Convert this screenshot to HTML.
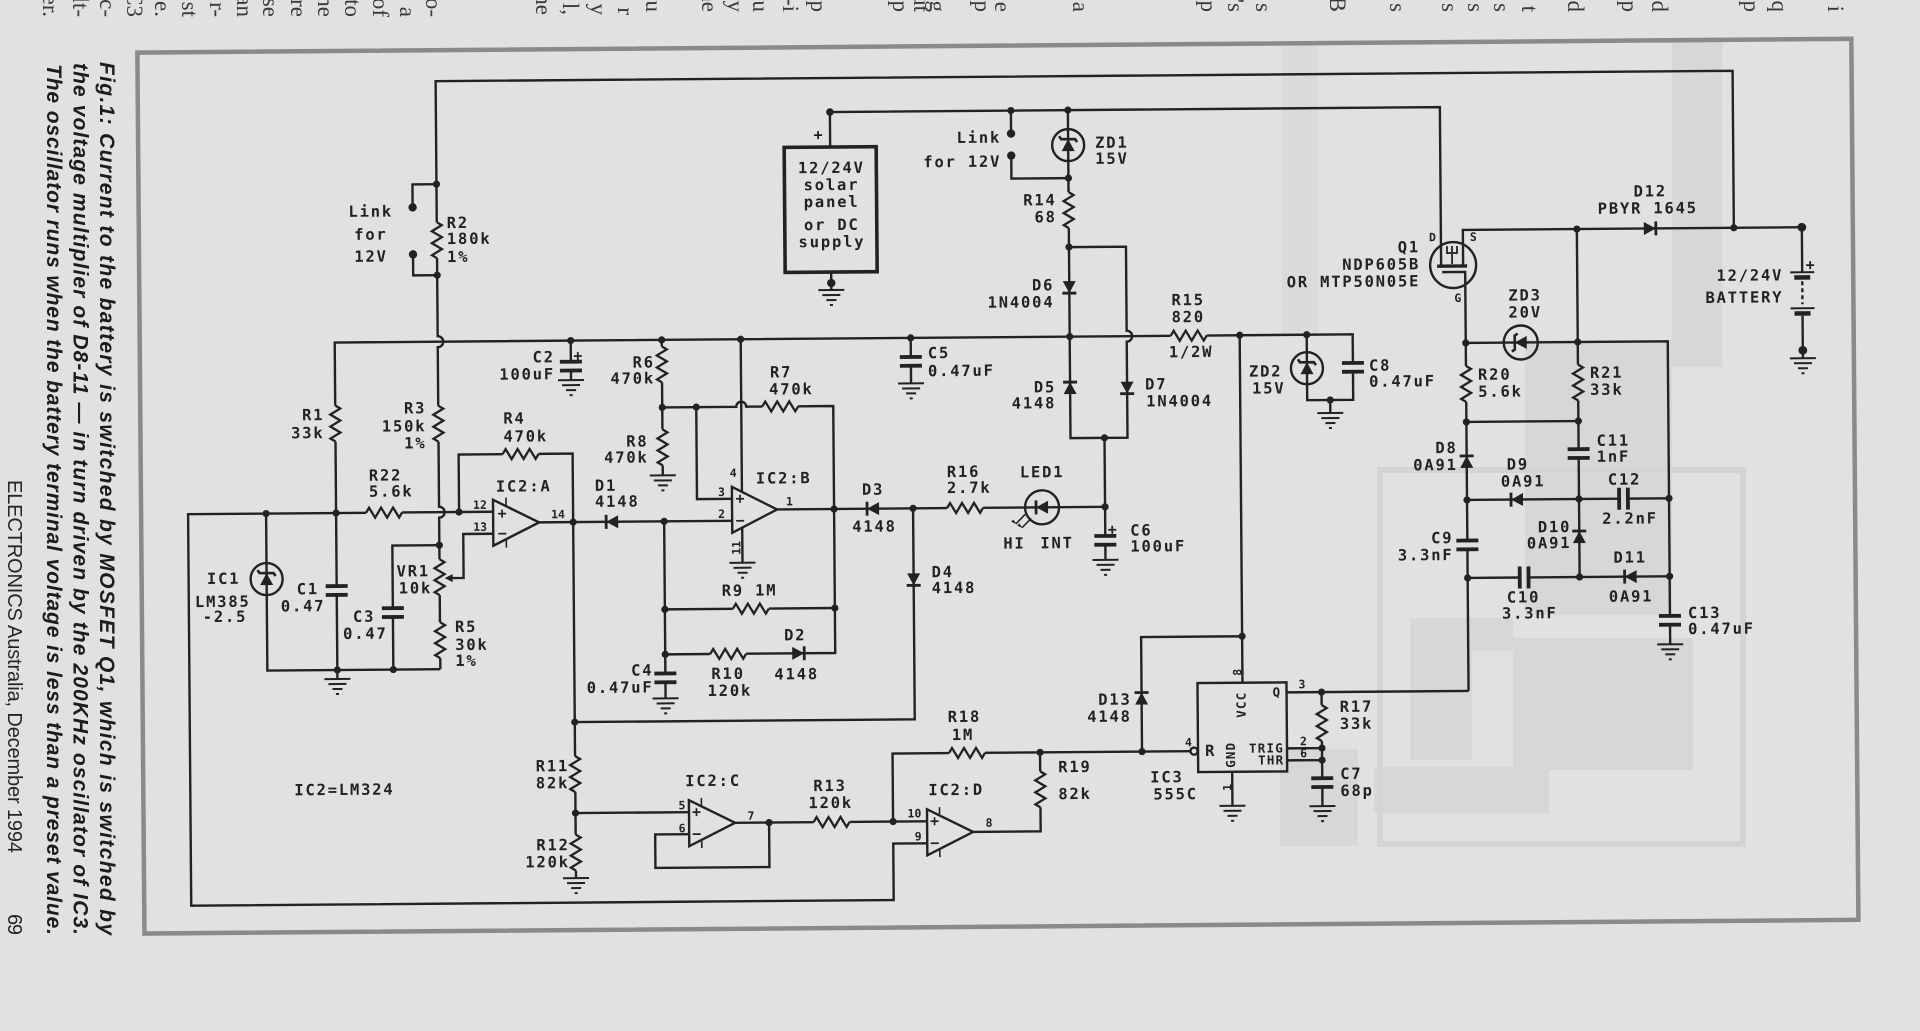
<!DOCTYPE html>
<html><head><meta charset="utf-8">
<style>
html,body{margin:0;padding:0;background:#e1e1df;}
svg{display:block}
.t{font-family:"DejaVu Sans Mono","Liberation Mono",monospace;font-weight:bold;font-size:15.5px;letter-spacing:1.8px;fill:#222}
.s{font-family:"DejaVu Sans Mono","Liberation Mono",monospace;font-weight:bold;font-size:11.5px;fill:#222}
.m{font-family:"DejaVu Sans Mono","Liberation Mono",monospace;font-weight:bold;font-size:12.5px;letter-spacing:1.2px;fill:#222}
.cap{font-family:"Liberation Sans",Arial,sans-serif;font-weight:bold;font-style:italic;font-size:21px;fill:#1c1c1c}
.foot{font-family:"Liberation Sans",Arial,sans-serif;font-size:20px;fill:#262626}
.frag{font-family:"Liberation Serif",serif;font-size:23px;fill:#3a3a3a}
</style></head><body>
<svg width="1920" height="1031" viewBox="0 0 1920 1031" xmlns="http://www.w3.org/2000/svg">
<defs>
 <path id="rh" d="M-18 0 l3 -5 l6 10 l6 -10 l6 10 l6 -10 l6 10 l3 -5" fill="none"/>
 <path id="rv" d="M0 -18 l5 3 l-10 6 l10 6 l-10 6 l10 6 l-10 6 l5 3" fill="none"/>
 <g id="dl"><polygon points="-6,0 6,-6.5 6,6.5" fill="#222" stroke="none"/><path d="M-6 -7 V7" fill="none" stroke-width="2.8"/></g>
 <g id="zl"><polygon points="-6,0 6,-6.5 6,6.5" fill="#222" stroke="none"/><path d="M-9 9 L-6 7 V-7 L-3 -9" fill="none" stroke-width="2.6"/></g>
 <g id="ch"><rect x="-11" y="-6.3" width="22" height="3.8" fill="#222" stroke="none"/><rect x="-11" y="2.5" width="22" height="3.8" fill="#222" stroke="none"/></g>
 <g id="cv"><rect x="-6.3" y="-11" width="3.8" height="22" fill="#222" stroke="none"/><rect x="2.5" y="-11" width="3.8" height="22" fill="#222" stroke="none"/></g>
 <path id="g" d="M-13 0H13M-9 5H9M-5 10H5M-1.5 15H1.5" fill="none" stroke-width="2"/>
</defs>

<!-- paper show-through shapes -->
<g fill="#d7d7d5" stroke="none">
 <rect x="1672" y="42" width="50" height="325"/>
 <rect x="1282" y="45" width="36" height="290" fill="#dbdbd9"/>
 <rect x="1525" y="340" width="147" height="275"/>
 <rect x="1410" y="618" width="103" height="33"/>
 <rect x="1410" y="651" width="62" height="109"/>
 <rect x="1513" y="638" width="180" height="132"/>
 <rect x="1374" y="767" width="175" height="46"/>
 <rect x="1280" y="749" width="78" height="97"/>
</g>
<rect x="1380" y="470" width="363" height="374" fill="none" stroke="#d4d4d2" stroke-width="6"/>

<!-- top page fragments -->
<g class="frag" text-anchor="end">
 <text transform="translate(43,17) rotate(90)">er.</text>
 <text transform="translate(73,17) rotate(90)">lt-</text>
 <text transform="translate(100,17) rotate(90)">c-</text>
 <text transform="translate(127,17) rotate(90)">C3</text>
 <text transform="translate(155,17) rotate(90)">e.</text>
 <text transform="translate(182,17) rotate(90)">st</text>
 <text transform="translate(210,17) rotate(90)">r-</text>
 <text transform="translate(237,17) rotate(90)">an</text>
 <text transform="translate(263,17) rotate(90)">se</text>
 <text transform="translate(291,17) rotate(90)">re</text>
 <text transform="translate(318,17) rotate(90)">he</text>
 <text transform="translate(345,17) rotate(90)">to</text>
 <text transform="translate(373,17) rotate(90)">of</text>
 <text transform="translate(400,17) rotate(90)">a</text>
 <text transform="translate(426,17) rotate(90)">o-</text>
 <text transform="translate(536,15) rotate(90)">he</text>
 <text transform="translate(563,15) rotate(90)">l,</text>
 <text transform="translate(591,15) rotate(90)">y</text>
 <text transform="translate(618,15) rotate(90)">r</text>
 <text transform="translate(646,12) rotate(90)">u</text>
 <text transform="translate(702,12) rotate(90)">ae</text>
 <text transform="translate(728,12) rotate(90)">y</text>
 <text transform="translate(753,12) rotate(90)">u</text>
 <text transform="translate(783,12) rotate(90)">-i</text>
 <text transform="translate(811,12) rotate(90)">p</text>
 <text transform="translate(893,12) rotate(90)">p</text>
 <text transform="translate(914,12) rotate(90)">ut</text>
 <text transform="translate(930,12) rotate(90)">g</text>
 <text transform="translate(975,12) rotate(90)">p</text>
 <text transform="translate(995,12) rotate(90)">e</text>
 <text transform="translate(1073,12) rotate(90)">a</text>
 <text transform="translate(1201,12) rotate(90)">p</text>
 <text transform="translate(1228,12) rotate(90)">'s</text>
 <text transform="translate(1256,12) rotate(90)">s</text>
 <text transform="translate(1330,12) rotate(90)">B</text>
 <text transform="translate(1390,12) rotate(90)">s</text>
 <text transform="translate(1442,12) rotate(90)">s</text>
 <text transform="translate(1468,12) rotate(90)">s</text>
 <text transform="translate(1494,12) rotate(90)">s</text>
 <text transform="translate(1522,12) rotate(90)">t</text>
 <text transform="translate(1568,12) rotate(90)">d</text>
 <text transform="translate(1622,12) rotate(90)">p</text>
 <text transform="translate(1652,12) rotate(90)">d</text>
 <text transform="translate(1744,12) rotate(90)">p</text>
 <text transform="translate(1772,12) rotate(90)">q</text>
 <text transform="translate(1828,12) rotate(90)">i</text>
</g>

<!-- caption -->
<text class="cap" transform="translate(100,62) rotate(90)" textLength="873" lengthAdjust="spacing">Fig.1: Current to the battery is switched by MOSFET Q1, which is switched by</text>
<text class="cap" transform="translate(73.5,63) rotate(90)" textLength="872" lengthAdjust="spacing">the voltage multiplier of D8-11 — in turn driven by the 200KHz oscillator of IC3.</text>
<text class="cap" transform="translate(47,64) rotate(90)" textLength="871" lengthAdjust="spacing">The oscillator runs when the battery terminal voltage is less than a preset value.</text>
<text class="foot" transform="translate(8,480) rotate(90)" textLength="373" lengthAdjust="spacing">ELECTRONICS Australia, December 1994</text>
<text class="foot" transform="translate(8,914) rotate(90)" textLength="21" lengthAdjust="spacing">69</text>

<g transform="rotate(-0.46 960 500)">
<rect x="141" y="46" width="1714" height="881" fill="none" stroke="#8a8a8a" stroke-width="4.5"/>

<!-- wires -->
<g stroke="#222" stroke-width="2.4" fill="none" stroke-linejoin="miter">
 <path d="M1736 234 V77 H439 V218 M439 254 V332 A5.5 5.5 0 0 1 439 343 V401.5 M439 437.5 V502.5 A5.5 5.5 0 0 1 439 513.5 V555 M439 591 V618 M439 654 V665"/>
 <path d="M439 180 H415 V203 M415 250 V271 H439"/>
 <path d="M336 400.5 V337.5 H1172 M1208 337.5 H1354 V366 M1354 375 V403 H1308 V337.5 M1331 403 V416"/>
 <path d="M336 436.5 V581 M336 590 V674"/>
 <path d="M494 508 H402 M366 508 H188 V899.5 H890.5 V843 H924.5"/>
 <path d="M266 508 V665 H439"/>
 <path d="M392 665 V612.5 M392 603.5 V541 H439"/>
 <path d="M493 530 H463 V574 H450"/>
 <path d="M459 508 V450.5 H503 M539 450.5 H573 V519"/>
 <path d="M539 519 H732"/>
 <path d="M573 519 V753 M573 789 V831.5 M573 867.5 V875"/>
 <path d="M913 508 V719 H573"/>
 <path d="M663 337.5 V344 M663 380 V427 M663 463 V473"/>
 <path d="M663 405 H737 A5 5 0 0 1 747 405 H763 M799 405 H834 V652 H745 M709 652 H664"/>
 <path d="M664 607 H732 M768 607 H834"/>
 <path d="M664 519 V671 M664 680 V696"/>
 <path d="M697 405 V497 H732"/>
 <path d="M742 337.5 V490 M742 526 V561"/>
 <path d="M777 508 H947 M983 508 H1105"/>
 <path d="M1105 439 V537 M1105 546 V561"/>
 <path d="M1071 337.5 V439 H1128 V343 A5.5 5.5 0 0 0 1128 332 V248 H1071"/>
 <path d="M1071 111 V193 M1071 229 V337.5"/>
 <path d="M1014 111 V134 M1014 156 V179 H1071"/>
 <path d="M833 111 H1443 V270"/>
 <path d="M833 111 V146 M833 271 V289"/>
 <path d="M572 337.5 V358.5 M572 367.5 V377"/>
 <path d="M912 337.5 V356.5 M912 365.5 V383"/>
 <path d="M1241 337.5 V685 M1241 638.5 H1140 V753"/>
 <path d="M890.5 821 V753 H947 M983 753 H1188.5"/>
 <path d="M1038 753 V772 M1038 808 V832 H970.5"/>
 <path d="M732.5 821 H811 M847 821 H924.5"/>
 <path d="M766.5 821 V865.5 H652.5 V832 H686.5"/>
 <path d="M573 810 H686.5"/>
 <path d="M1230 774 V808"/>
 <path d="M1285 695 H1467"/>
 <path d="M1320 695 V708 M1320 744 V781 M1320 790 V809 M1285 751 H1320 M1285 763 H1320"/>
 <path d="M1465 270 V234 H1804 V279 M1804 322.5 V365"/>
 <path d="M1444 276 H1467 V347"/>
 <path d="M1467 347 H1669 V621.5 M1669 630.5 V650"/>
 <path d="M1579 234 V369.5 M1579 405.5 V454 M1579 463 V582"/>
 <path d="M1467 347 V370 M1467 406 V544.5 M1467 553.5 V695"/>
 <path d="M1467 426 H1579 M1467 504 H1619 M1628 504 H1669 M1467 582 H1519 M1528 582 H1669"/>
 <!-- boxes -->
 <rect x="787" y="146" width="92" height="125" stroke-width="3.6"/>
 <rect x="1196" y="685" width="89" height="89"/>
 <!-- op-amps -->
 <polygon points="493,496 493,542 539,519"/>
 <polygon points="732,485 732,531 777,508"/>
 <polygon points="686.5,798 686.5,844 732.5,821"/>
 <polygon points="924.5,809 924.5,855 970.5,832"/>
 <path d="M506 494 V502 M506 536 V544 M699 796 V803 M699 839 V846 M937 807 V814 M937 850 V857" stroke-width="1.6"/>
 <path d="M498 510 H506 M502 506 V514 M498 530 H506 M736 497 H744 M740 493 V501 M736 519 H744 M690 810 H698 M694 806 V814 M690 832 H698 M928 821 H936 M932 817 V825 M928 843 H936" stroke-width="1.7"/>
 <!-- circles -->
 <circle cx="1071" cy="146" r="16"/>
 <circle cx="1308" cy="371" r="16"/>
 <circle cx="266" cy="573.5" r="16"/>
 <circle cx="1522" cy="347" r="17"/>
 <circle cx="1042" cy="508" r="17"/>
 <circle cx="1455" cy="269" r="23"/>
 <circle cx="1192" cy="753" r="3.6" fill="#e1e1df"/>
 <!-- Q1 internals -->
 <path d="M1439 270 H1469" stroke-width="3.4"/>
 <path d="M1454 268 V250 M1449 250 V257 H1459 V250" stroke-width="1.8"/>
 <!-- LED arrows -->
 <path d="M1031 519 L1022 528 M1025 515 L1016 524" stroke-width="1.6"/>
 <!-- battery -->
 <path d="M1792 279 H1816 M1792 315 H1816" stroke-width="2"/>
 <path d="M1804 288 V311" stroke-dasharray="4 3"/>
 <!-- plus signs -->
 <path d="M575 353 H583 M579 349 V357 M1108 531 H1116 M1112 527 V535 M817 134 H825 M821 130 V138 M1808 272 H1816 M1812 268 V276" stroke-width="1.8"/>
</g>
<g fill="#222">
 <polygon points="444,574 452,570 452,578"/>
 <polygon points="1017,526 1023,529 1019,524"/>
 <polygon points="1011,522 1017,525 1013,520"/>
 <rect x="1796" y="282" width="16" height="4.5"/>
 <rect x="1796" y="318" width="16" height="4.5"/>
</g>

<!-- resistors -->
<g stroke="#222" stroke-width="2.3">
 <use href="#rv" x="439" y="236"/>
 <use href="#rv" x="439" y="419.5"/>
 <use href="#rv" x="439" y="573"/>
 <use href="#rv" x="439" y="636"/>
 <use href="#rv" x="336" y="418.5"/>
 <use href="#rv" x="663" y="362"/>
 <use href="#rv" x="663" y="445"/>
 <use href="#rv" x="573" y="771"/>
 <use href="#rv" x="573" y="849.5"/>
 <use href="#rv" x="1071" y="211"/>
 <use href="#rv" x="1038" y="790"/>
 <use href="#rv" x="1320" y="726"/>
 <use href="#rv" x="1467" y="388"/>
 <use href="#rv" x="1579" y="387.5"/>
 <use href="#rh" x="384" y="508"/>
 <use href="#rh" x="521" y="450.5"/>
 <use href="#rh" x="781" y="405"/>
 <use href="#rh" x="750" y="607"/>
 <use href="#rh" x="727" y="652"/>
 <use href="#rh" x="965" y="508"/>
 <use href="#rh" x="1190" y="337.5"/>
 <use href="#rh" x="965" y="753"/>
 <use href="#rh" x="829" y="821"/>
</g>

<!-- diodes, zeners, caps, grounds -->
<g stroke="#222" stroke-width="2.3">
 <use href="#dl" transform="translate(612,519)"/>
 <use href="#dl" transform="translate(797,652) rotate(180)"/>
 <use href="#dl" transform="translate(873,508)"/>
 <use href="#dl" transform="translate(913,579) rotate(-90)"/>
 <use href="#dl" transform="translate(1071,389) rotate(90)"/>
 <use href="#dl" transform="translate(1071,288) rotate(-90)"/>
 <use href="#dl" transform="translate(1128,389) rotate(-90)"/>
 <use href="#dl" transform="translate(1467,466) rotate(90)"/>
 <use href="#dl" transform="translate(1517,504)"/>
 <use href="#dl" transform="translate(1579,542) rotate(90)"/>
 <use href="#dl" transform="translate(1630,582)"/>
 <use href="#dl" transform="translate(1652,234) rotate(180)"/>
 <use href="#dl" transform="translate(1140,700) rotate(90)"/>
 <use href="#dl" transform="translate(1042,508)"/>
 <use href="#zl" transform="translate(1071,146) rotate(90)"/>
 <use href="#zl" transform="translate(1308,371) rotate(90)"/>
 <use href="#zl" transform="translate(266,573.5) rotate(90)"/>
 <use href="#zl" transform="translate(1522,347)"/>
 <use href="#ch" x="336" y="585.5"/>
 <use href="#ch" x="572" y="363"/>
 <use href="#ch" x="392" y="608"/>
 <use href="#ch" x="664" y="675.5"/>
 <use href="#ch" x="912" y="361"/>
 <use href="#ch" x="1105" y="541.5"/>
 <use href="#ch" x="1320" y="785.5"/>
 <use href="#ch" x="1354" y="370.5"/>
 <use href="#ch" x="1467" y="549"/>
 <use href="#ch" x="1579" y="458.5"/>
 <use href="#ch" x="1669" y="626"/>
 <use href="#cv" x="1523.5" y="582"/>
 <use href="#cv" x="1623.5" y="504"/>
 <use href="#g" x="336" y="674"/>
 <use href="#g" x="572" y="377"/>
 <use href="#g" x="663" y="473"/>
 <use href="#g" x="742" y="561"/>
 <use href="#g" x="833" y="289"/>
 <use href="#g" x="912" y="383"/>
 <use href="#g" x="1105" y="561"/>
 <use href="#g" x="573" y="875"/>
 <use href="#g" x="664" y="696"/>
 <use href="#g" x="1230" y="808"/>
 <use href="#g" x="1320" y="809"/>
 <use href="#g" x="1331" y="416"/>
 <use href="#g" x="1669" y="650"/>
 <use href="#g" x="1804" y="365"/>
</g>

<!-- junction dots -->
<g fill="#222">
 <circle cx="439" cy="180" r="3.6"/><circle cx="439" cy="271" r="3.6"/>
 <circle cx="415" cy="203" r="4.2"/><circle cx="415" cy="250" r="4.2"/>
 <circle cx="1014" cy="134" r="4.2"/><circle cx="1014" cy="156" r="4.2"/>
 <circle cx="572" cy="337.5" r="3.6"/><circle cx="663" cy="337.5" r="3.6"/><circle cx="742" cy="337.5" r="3.6"/>
 <circle cx="912" cy="337.5" r="3.6"/><circle cx="1071" cy="337.5" r="3.6"/><circle cx="1241" cy="337.5" r="3.6"/>
 <circle cx="1308" cy="337.5" r="3.6"/>
 <circle cx="266" cy="508" r="3.6"/><circle cx="336" cy="508" r="3.6"/><circle cx="459" cy="508" r="3.6"/>
 <circle cx="439" cy="541" r="3.6"/><circle cx="336" cy="665" r="3.6"/><circle cx="392" cy="665" r="3.6"/>
 <circle cx="573" cy="519" r="3.6"/><circle cx="664" cy="519" r="3.6"/>
 <circle cx="663" cy="405" r="3.6"/><circle cx="697" cy="405" r="3.6"/>
 <circle cx="834" cy="508" r="3.6"/><circle cx="834" cy="607" r="3.6"/>
 <circle cx="664" cy="607" r="3.6"/><circle cx="664" cy="652" r="3.6"/>
 <circle cx="913" cy="508" r="3.6"/><circle cx="1105" cy="508" r="3.6"/><circle cx="1105" cy="439" r="3.6"/>
 <circle cx="1071" cy="248" r="3.6"/><circle cx="1071" cy="179" r="3.6"/>
 <circle cx="833" cy="111" r="3.8"/><circle cx="1014" cy="111" r="3.6"/><circle cx="1071" cy="111" r="3.6"/>
 <circle cx="833" cy="282" r="4.2"/>
 <circle cx="573" cy="719" r="3.6"/><circle cx="573" cy="810" r="3.6"/>
 <circle cx="766.5" cy="821" r="3.6"/><circle cx="890.5" cy="821" r="3.6"/>
 <circle cx="1038" cy="753" r="3.6"/><circle cx="1140" cy="753" r="3.6"/><circle cx="1241" cy="638.5" r="3.6"/>
 <circle cx="1320" cy="695" r="3.6"/><circle cx="1320" cy="751" r="3.6"/><circle cx="1320" cy="763" r="3.6"/>
 <circle cx="1331" cy="403" r="3.6"/>
 <circle cx="1579" cy="234" r="3.6"/><circle cx="1736" cy="234" r="3.6"/>
 <circle cx="1804" cy="234" r="4.4"/><circle cx="1804" cy="357" r="4.4"/>
 <circle cx="1467" cy="347" r="3.6"/><circle cx="1579" cy="347" r="3.6"/>
 <circle cx="1467" cy="426" r="3.6"/><circle cx="1579" cy="426" r="3.6"/>
 <circle cx="1467" cy="504" r="3.6"/><circle cx="1579" cy="504" r="3.6"/><circle cx="1669" cy="504" r="3.6"/>
 <circle cx="1467" cy="582" r="3.6"/><circle cx="1579" cy="582" r="3.6"/><circle cx="1669" cy="582" r="3.6"/>
</g>

<!-- labels -->
<g class="t">
 <text x="373" y="212" text-anchor="middle">Link</text>
 <text x="373" y="235" text-anchor="middle">for</text>
 <text x="373" y="257" text-anchor="middle">12V</text>
 <text x="449" y="224">R2</text><text x="449" y="240">180k</text><text x="449" y="258">1%</text>
 <text x="325" y="415" text-anchor="end">R1</text><text x="325" y="433" text-anchor="end">33k</text>
 <text x="427" y="409" text-anchor="end">R3</text><text x="427" y="427" text-anchor="end">150k</text><text x="427" y="444" text-anchor="end">1%</text>
 <text x="556" y="359" text-anchor="end">C2</text><text x="556" y="376" text-anchor="end">100uF</text>
 <text x="504" y="420">R4</text><text x="504" y="438">470k</text>
 <text x="369" y="476">R22</text><text x="369" y="492">5.6k</text>
 <text x="496" y="488">IC2:A</text>
 <text x="595" y="488">D1</text><text x="595" y="504">4148</text>
 <text x="656" y="365" text-anchor="end">R6</text><text x="656" y="381" text-anchor="end">470k</text>
 <text x="649" y="444" text-anchor="end">R8</text><text x="649" y="460" text-anchor="end">470k</text>
 <text x="771" y="376">R7</text><text x="770" y="393">470k</text>
 <text x="756" y="482">IC2:B</text>
 <text x="929" y="358">C5</text><text x="929" y="376">0.47uF</text>
 <text x="834" y="172" text-anchor="middle">12/24V</text>
 <text x="834" y="189" text-anchor="middle">solar</text>
 <text x="834" y="206" text-anchor="middle">panel</text>
 <text x="834" y="229" text-anchor="middle">or DC</text>
 <text x="834" y="246" text-anchor="middle">supply</text>
 <text x="1004" y="143" text-anchor="end">Link</text><text x="1004" y="167" text-anchor="end">for 12V</text>
 <text x="1098" y="149">ZD1</text><text x="1098" y="165">15V</text>
 <text x="1059" y="206" text-anchor="end">R14</text><text x="1059" y="223" text-anchor="end">68</text>
 <text x="1056" y="291" text-anchor="end">D6</text><text x="1056" y="308" text-anchor="end">1N4004</text>
 <text x="1173" y="307">R15</text><text x="1173" y="324">820</text><text x="1170" y="359">1/2W</text>
 <text x="1057" y="393" text-anchor="end">D5</text><text x="1057" y="409" text-anchor="end">4148</text>
 <text x="1146" y="391">D7</text><text x="1147" y="408">1N4004</text>
 <text x="1250" y="379">ZD2</text><text x="1253" y="396">15V</text>
 <text x="1370" y="374">C8</text><text x="1370" y="390">0.47uF</text>
 <text x="1422" y="256" text-anchor="end">Q1</text><text x="1422" y="273" text-anchor="end">NDP605B</text><text x="1422" y="290" text-anchor="end">OR MTP50N05E</text>
 <text x="1636" y="202">D12</text><text x="1600" y="219">PBYR 1645</text>
 <text x="1785" y="287" text-anchor="end">12/24V</text><text x="1785" y="309" text-anchor="end">BATTERY</text>
 <text x="1510" y="305">ZD3</text><text x="1510" y="322">20V</text>
 <text x="1479" y="384">R20</text><text x="1479" y="401">5.6k</text>
 <text x="1591" y="383">R21</text><text x="1591" y="400">33k</text>
 <text x="1597" y="451">C11</text><text x="1597" y="467">1nF</text>
 <text x="1458" y="457" text-anchor="end">D8</text><text x="1458" y="474" text-anchor="end">0A91</text>
 <text x="1507" y="474">D9</text><text x="1501" y="491">0A91</text>
 <text x="1608" y="490">C12</text><text x="1602" y="529">2.2nF</text>
 <text x="1571" y="537" text-anchor="end">D10</text><text x="1571" y="553" text-anchor="end">0A91</text>
 <text x="1453" y="547" text-anchor="end">C9</text><text x="1453" y="564" text-anchor="end">3.3nF</text>
 <text x="1506" y="607">C10</text><text x="1501" y="623">3.3nF</text>
 <text x="1613" y="568">D11</text><text x="1608" y="607">0A91</text>
 <text x="1687" y="624">C13</text><text x="1687" y="640">0.47uF</text>
 <text x="1338" y="715">R17</text><text x="1338" y="732">33k</text>
 <text x="1338" y="782">C7</text><text x="1338" y="799">68p</text>
 <text x="1148" y="784">IC3</text><text x="1151" y="801">555C</text>
 <text x="1130" y="706" text-anchor="end">D13</text><text x="1130" y="723" text-anchor="end">4148</text>
 <text x="946" y="722">R18</text><text x="950" y="740">1M</text>
 <text x="1056" y="773">R19</text><text x="1056" y="800">82k</text>
 <text x="926" y="795">IC2:D</text>
 <text x="811" y="790">R13</text><text x="806" y="807">120k</text>
 <text x="683" y="784">IC2:C</text>
 <text x="292" y="790">IC2=LM324</text>
 <text x="567" y="768" text-anchor="end">R11</text><text x="567" y="785" text-anchor="end">82k</text>
 <text x="567" y="847" text-anchor="end">R12</text><text x="567" y="864" text-anchor="end">120k</text>
 <text x="223" y="578" text-anchor="middle">IC1</text><text x="222" y="601" text-anchor="middle">LM385</text><text x="224" y="616" text-anchor="middle">-2.5</text>
 <text x="296" y="589">C1</text><text x="280" y="606">0.47</text>
 <text x="352" y="617">C3</text><text x="342" y="634">0.47</text>
 <text x="396" y="572">VR1</text><text x="398" y="589">10k</text>
 <text x="454" y="628">R5</text><text x="454" y="646">30k</text><text x="454" y="662">1%</text>
 <text x="721" y="594">R9 1M</text>
 <text x="710" y="677">R10</text><text x="706" y="694">120k</text>
 <text x="783" y="639">D2</text><text x="773" y="678">4148</text>
 <text x="652" y="673" text-anchor="end">C4</text><text x="652" y="690" text-anchor="end">0.47uF</text>
 <text x="862" y="494">D3</text><text x="852" y="531">4148</text>
 <text x="947" y="477">R16</text><text x="947" y="493">2.7k</text>
 <text x="1020" y="478">LED1</text>
 <text x="1003" y="549">HI</text><text x="1040" y="549">INT</text>
 <text x="1130" y="537">C6</text><text x="1130" y="553">100uF</text>
 <text x="931" y="577">D4</text><text x="931" y="593">4148</text>
 <text x="1203" y="758" letter-spacing="0">R</text>
</g>
<g class="s">
 <text x="473" y="505">12</text><text x="473" y="527">13</text><text x="551" y="515">14</text>
 <text x="730" y="475">4</text><text x="718" y="494">3</text><text x="718" y="516">2</text><text x="786" y="504">1</text>
 <text transform="translate(740,553) rotate(-90)">11</text>
 <text x="905" y="817">10</text><text x="912" y="840">9</text><text x="983" y="827">8</text>
 <text x="676" y="807">5</text><text x="676" y="830">6</text><text x="745" y="818">7</text>
 <text x="1431" y="245">D</text><text x="1472" y="245">S</text><text x="1456" y="306">G</text>
 <text transform="translate(1240,678) rotate(-90)">8</text>
 <text x="1183" y="748">4</text>
 <text transform="translate(1229,793) rotate(-90)">1</text>
 <text x="1297" y="691">3</text><text x="1298" y="748">2</text><text x="1298" y="760">6</text>
</g>
<g class="m">
 <text transform="translate(1233,770) rotate(-90)">GND</text>
 <text transform="translate(1244,720) rotate(-90)">VCC</text>
 <text x="1271" y="699">Q</text>
 <text x="1247" y="755">TRIG</text>
 <text x="1256" y="767">THR</text>
</g>
</g>
</svg>
</body></html>
